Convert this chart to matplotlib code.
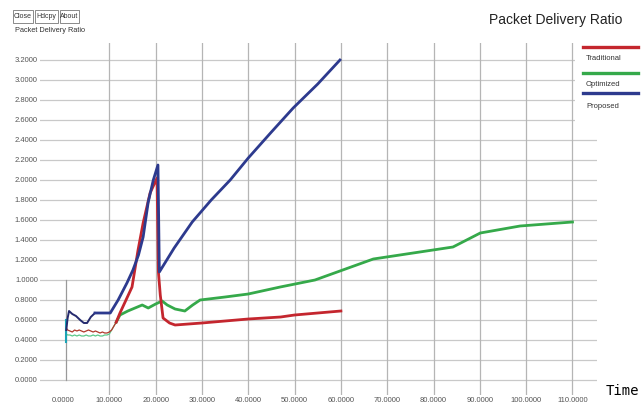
import matplotlib.pyplot as plt
from matplotlib.lines import Line2D
from matplotlib.patches import Rectangle

# --- data -------------------------------------------------------------
# early (noisy, thin) part of each run
x_early = [0.7, 1.0, 1.5, 2.0, 2.5, 3.0, 3.5, 4.0, 4.5, 5.0, 5.5, 6.0, 6.5,
           7.0, 7.5, 8.0, 8.5, 9.0, 9.5, 10.0, 10.5, 11.5]
trad_early = [0.52, 0.50, 0.49, 0.48, 0.50, 0.49, 0.50, 0.49, 0.48, 0.49, 0.50,
              0.49, 0.48, 0.49, 0.48, 0.47, 0.48, 0.47, 0.47, 0.48, 0.50, 0.58]
opt_early = [0.46, 0.45, 0.45, 0.44, 0.45, 0.44, 0.45, 0.44, 0.44, 0.45, 0.44,
             0.44, 0.45, 0.44, 0.45, 0.44, 0.44, 0.45, 0.45, 0.46, 0.50, 0.58]

# traditional
trad_x = [11.5, 12.3, 14.9, 16.2, 17.3, 18.8, 20.3, 20.6, 21.0, 21.6, 23.0, 24.2,
          30.0, 40.0, 47.0, 50.0, 60.0]
trad_y = [0.58, 0.67, 0.93, 1.30, 1.57, 1.87, 2.02, 1.08, 0.85, 0.62, 0.57, 0.55,
          0.57, 0.61, 0.63, 0.65, 0.69]

# optimized
opt_x = [11.5, 12.3, 14.0, 17.1, 18.4, 20.0, 21.4, 22.5, 24.2, 26.3, 28.0, 29.6,
         35.0, 40.0, 46.9, 54.4, 67.0, 84.2, 90.1, 98.7, 110.0]
opt_y = [0.58, 0.65, 0.69, 0.75, 0.72, 0.76, 0.79, 0.75, 0.71, 0.69, 0.75, 0.80,
         0.83, 0.86, 0.93, 1.00, 1.21, 1.33, 1.47, 1.54, 1.58]

# proposed
prop_x = [0.7, 1.0, 1.3, 2.0, 2.8, 3.7, 4.5, 5.2, 6.0, 6.9, 10.2, 11.9, 13.8,
          15.1, 16.3, 17.3, 18.4, 19.5, 20.5, 20.8, 24.0, 27.9, 32.0, 36.1, 40.0,
          45.0, 49.7, 55.0, 59.8]
prop_y = [0.50, 0.62, 0.69, 0.66, 0.64, 0.60, 0.57, 0.57, 0.63, 0.67, 0.67, 0.80,
          0.97, 1.10, 1.25, 1.43, 1.78, 2.00, 2.15, 1.08, 1.32, 1.58, 1.80, 2.00,
          2.22, 2.48, 2.72, 2.96, 3.20]

series_names = ["Traditional", "Optimized", "Proposed"]
series_colors = ["#c4262e", "#35a94a", "#2d3a8e"]

y_ticks = [i * 0.2 for i in range(17)]
x_ticks = list(range(0, 111, 10))

narrow = ["Liberation Sans Narrow", "Liberation Sans"]

# --- figure -----------------------------------------------------------
fig = plt.figure(figsize=(6.42, 4.07), dpi=100, facecolor="white")
ax = fig.add_axes([40 / 642, 12 / 407, 557 / 642, 352 / 407])
ax.set_xlim(-4.97, 115.3)
ax.set_ylim(-0.15, 3.37)
for s in ax.spines.values():
    s.set_visible(False)

for yv in y_ticks:
    ax.axhline(yv, color="#c9c9c9", lw=0.9, zorder=0)
for xv in x_ticks[1:]:
    ax.axvline(xv, color="#b5b5b5", lw=0.9, zorder=0)
ax.plot([0.7, 0.7], [0.0, 1.0], color="#9a9a9a", lw=0.9, zorder=1)

# legend area covers the grid in the top right corner
ax.add_patch(Rectangle((110.6, 2.5), 10, 1.0, facecolor="white", edgecolor="none", zorder=0.5))

ax.set_xticks(x_ticks)
ax.set_xticklabels([f"{v:.4f}" for v in x_ticks])
ax.set_yticks(y_ticks)
ax.set_yticklabels([f"{v:.4f}" for v in y_ticks])
ax.tick_params(length=0, labelsize=5.5, labelcolor="#555555", pad=1.5)
for lbl in ax.get_xticklabels() + ax.get_yticklabels():
    lbl.set_family(narrow)

# thin early traces
ax.plot(x_early, trad_early, color="#b0392b", lw=0.9, zorder=3)
ax.plot(x_early, opt_early, color="#5cc98a", lw=0.9, zorder=2)
ax.plot([0.7, 0.7], [0.38, 0.60], color="#1aa3b5", lw=1.5, zorder=4)

ax.plot(trad_x, trad_y, color=series_colors[0], lw=2.0, zorder=3)
ax.plot(opt_x, opt_y, color=series_colors[1], lw=2.0, zorder=2)
ax.plot(prop_x[:10], prop_y[:10], color="#252a6e", lw=1.4, zorder=4)
ax.plot(prop_x[9:], prop_y[9:], color=series_colors[2], lw=2.0, zorder=4)

# --- legend on the right ----------------------------------------------
leg_y = [47, 73, 93]
txt_y = [58, 85, 107]
for name, col, ly, ty in zip(series_names, series_colors, leg_y, txt_y):
    fig.add_artist(Line2D([583 / 642, 638 / 642], [1 - ly / 407] * 2, color=col, lw=2.4))
    fig.text(586 / 642, 1 - ty / 407, name, fontsize=5.5, color="#333333",
             va="center", ha="left", family=narrow)

fig.text(556 / 642, 1 - 20 / 407, "Packet Delivery Ratio", fontsize=10, color="#222222",
         ha="center", va="center", family=narrow)

# window buttons and small caption at the top left
btns = [("Close", 13, 33), ("Hdcpy", 35, 58), ("About", 60, 79)]
for label, x0, x1 in btns:
    fig.add_artist(Rectangle((x0 / 642, 1 - 23 / 407), (x1 - x0) / 642, 13 / 407,
                             facecolor="white", edgecolor="#777777", lw=0.6))
    fig.text((x0 + x1) / 2 / 642, 1 - 16.5 / 407, label, fontsize=5, color="#333333",
             ha="center", va="center", family=narrow)
fig.text(15 / 642, 1 - 31 / 407, "Packet Delivery Ratio", fontsize=5.3, color="#333333",
         ha="left", va="center", family=narrow)

fig.text(622 / 642, 1 - 391 / 407, "Time", fontsize=10, color="black",
         ha="center", va="center", family="DejaVu Sans Mono")

fig.savefig("out.png", dpi=100)
